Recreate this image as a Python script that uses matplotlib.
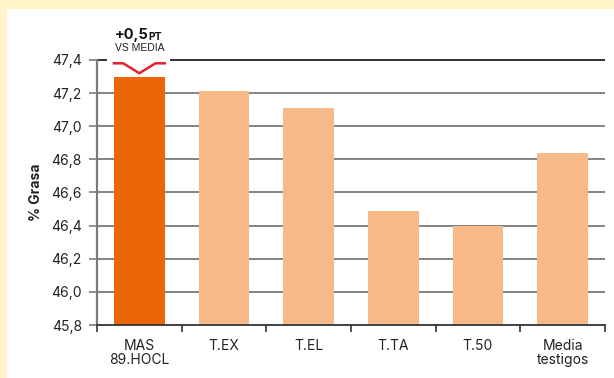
import matplotlib.pyplot as plt
from matplotlib.patches import Rectangle
import numpy as np

plt.rcParams['font.family'] = ['Inter', 'DejaVu Sans']

# datos: % de grasa por variedad
categorias = ['MAS\n89.HOCL', 'T.EX', 'T.EL', 'T.TA', 'T.50', 'Media\ntestigos']
grasa = [47.30, 47.21, 47.11, 46.49, 46.40, 46.84]
colores = ['#EC6608', '#F6B987', '#F6B987', '#F6B987', '#F6B987', '#F6B987']
yticks = [45.8, 46.0, 46.2, 46.4, 46.6, 46.8, 47.0, 47.2, 47.4]
ytick_labels = ['45,8', '46,0', '46,2', '46,4', '46,6', '46,8', '47,0', '47,2', '47,4']

fig = plt.figure(figsize=(6.14, 3.78), dpi=100, facecolor='#FFF5C8')
# panel blanco
fig.patches.append(Rectangle((7 / 614, 0), 1, 369.5 / 378, transform=fig.transFigure,
                             facecolor='white', edgecolor='none', zorder=-5))

ax = fig.add_axes([97 / 614, 1 - 325 / 378, 508 / 614, 265 / 378])
ax.set_facecolor('none')

x = np.arange(len(categorias))
ax.bar(x, grasa, width=0.6, color=colores, zorder=2)

ax.set_xlim(-0.5, len(categorias) - 0.5)
ax.set_ylim(45.8, 47.4)

# lineas de referencia
for yv in yticks[1:-1]:
    ax.axhline(yv, color='#7a7a7a', lw=1.3, zorder=1)
# linea superior, cortada bajo la etiqueta
ax.hlines([47.4, 47.4], [-0.5, 0.36], [-0.38, 5.5], color='#222222', lw=1.3, zorder=1,
          clip_on=False)

ax.set_yticks(yticks)
ax.set_yticklabels(ytick_labels)
ax.tick_params(axis='y', direction='out', length=6, width=1.2, color='#7a7a7a',
               labelsize=10, labelcolor='#222222', pad=5)

ax.set_xticks(x)
ax.set_xticklabels(categorias, linespacing=1.05)
ax.tick_params(axis='x', which='major', length=0, labelsize=10, labelcolor='#222222', pad=10)
ax.set_xticks(np.arange(len(categorias) + 1) - 0.5, minor=True)
ax.tick_params(axis='x', which='minor', direction='out', length=5, width=1.2, color='#333333')

for s in ['top', 'right']:
    ax.spines[s].set_visible(False)
ax.spines['left'].set_color('#7a7a7a')
ax.spines['left'].set_linewidth(1.6)
ax.spines['bottom'].set_color('#333333')
ax.spines['bottom'].set_linewidth(1.3)

ax.set_ylabel('% Grasa', fontsize=10, fontweight='bold', color='#222222', labelpad=6)

# indicador de diferencia frente a la media
ax.plot([-0.3, -0.19, 0, 0.19, 0.3], [47.38, 47.38, 47.32, 47.38, 47.38],
        color='#E3202B', lw=1.8, zorder=4, clip_on=False)
ax.text(0, 47.44, 'VS MEDIA', ha='center', va='bottom', fontsize=7.5, color='#222222',
        family=['Liberation Sans Narrow', 'Liberation Sans'], zorder=3, clip_on=False)
ax.text(0.11, 47.51, '+0,5', ha='right', va='bottom', fontsize=10.5, fontweight='bold',
        color='#111111')
ax.text(0.11, 47.51, 'PT', ha='left', va='bottom', fontsize=7.5, fontweight='bold',
        color='#111111')

plt.savefig('out.png', dpi=100, facecolor=fig.get_facecolor())
